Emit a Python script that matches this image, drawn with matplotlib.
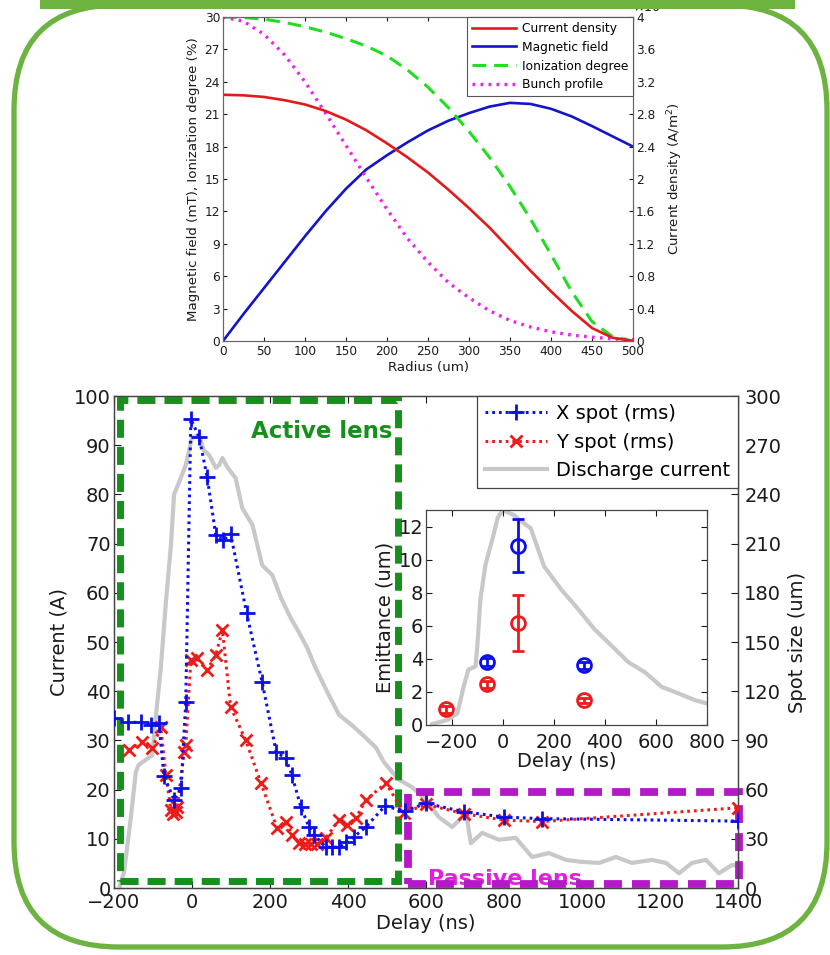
import numpy as np
import matplotlib
matplotlib.use("Agg")
import matplotlib.pyplot as plt
from matplotlib.patches import Rectangle, FancyBboxPatch
from matplotlib.transforms import IdentityTransform
from matplotlib.ticker import FuncFormatter

plt.rcParams['font.family'] = ['DejaVu Sans']

# ---------------- data: top panel ----------------
radius_um = [0, 25, 50, 75, 100, 125, 150, 175, 200, 225, 250, 275, 300, 325, 350, 375, 400, 425, 450, 475, 500]
current_density = [3.04, 3.033, 3.013, 2.973, 2.92, 2.84, 2.733, 2.6, 2.44, 2.267, 2.08, 1.867, 1.64, 1.4, 1.133,
                   0.867, 0.613, 0.373, 0.16, 0.04, 0.0]          # x1e8 A/m^2 (right axis)
magnetic_field = [0, 2.5, 4.9, 7.3, 9.7, 12.0, 14.1, 15.9, 17.2, 18.4, 19.5, 20.4, 21.1, 21.7, 22.05, 21.95,
                  21.5, 20.8, 19.9, 18.95, 18.0]                  # mT
ionization_degree = [30, 29.95, 29.8, 29.5, 29.1, 28.6, 28.0, 27.3, 26.4, 25.1, 23.5, 21.6, 19.4, 17.0, 14.3,
                     11.3, 8.0, 4.6, 1.8, 0.4, 0.0]               # %
bunch_profile = [30, 29.6, 28.4, 26.5, 24.0, 21.1, 18.1, 15.1, 12.2, 9.5, 7.3, 5.4, 4.0, 2.8, 1.9, 1.3, 0.85,
                 0.55, 0.35, 0.2, 0.12]
top_labels = ['Current density', 'Magnetic field', 'Ionization degree', 'Bunch profile']

# ---------------- data: main panel ----------------
x_delay = [-200, -165, -130, -105, -85, -72, -46, -28, -16, -3, 18, 39, 61, 80, 99, 140, 180, 216, 240, 256,
           279, 300, 313, 343, 359, 377, 394, 415, 446, 495, 545, 600, 697, 800, 897, 1400]
x_spot_um = [103.5, 101, 101, 99.6, 100.8, 68.4, 53.7, 60.9, 113.4, 285.9, 275.1, 250.5, 215.1, 212.1, 216,
             167.7, 125.4, 82.8, 79.2, 69, 49.5, 37.2, 32.4, 24.9, 24.9, 24.9, 27.9, 31.2, 37.2, 50.1, 46.8,
             51.6, 46.5, 43.2, 42.3, 40.8]
y_delay = [-162, -128, -102, -80, -67, -54, -48, -42, -38, -20, -16, -3, 13, 39, 61, 78, 99, 138, 177, 218,
           241, 257, 274, 290, 305, 320, 343, 377, 397, 420, 446, 497, 544, 600, 697, 800, 897, 1400]
y_spot_um = [84, 89.1, 85.2, 98.1, 69, 47.7, 45, 46.5, 49.5, 82.8, 87, 138.9, 140.1, 132.9, 142.2, 157.2,
             110.4, 90, 63.9, 36.6, 40.2, 32.4, 27.3, 27, 27, 27, 30.6, 41.4, 38.4, 42.6, 53.7, 63.9, 45.9,
             51, 45.3, 41.4, 40.5, 48.9]
discharge_t = [-185, -174, -157, -144, -137, -102, -93, -80, -67, -54, -46, -33, -16, 0, 18, 30, 44, 61, 70, 78,
               90, 112, 129, 155, 180, 206, 228, 253, 274, 296, 317, 351, 377, 410, 446, 472, 492, 513, 531,
               564, 600, 633, 667, 703, 715, 744, 787, 830, 872, 915, 959, 1000, 1044, 1087, 1128, 1179, 1215,
               1249, 1282, 1318, 1351, 1385, 1400]
discharge_A = [0.5, 3.3, 14.2, 23.6, 25, 27, 34.6, 44.7, 58, 69.7, 80, 82.5, 86, 91.5, 92, 89, 88, 85.4, 86,
               87.4, 85.6, 83.3, 77.2, 73.8, 65.6, 63.6, 59.0, 54.9, 52.0, 48.7, 44.7, 39.2, 35.2, 33.1, 30.5,
               28.5, 25.6, 23.6, 22, 20.5, 17.9, 14.4, 12.4, 15.2, 9.1, 11.2, 9.8, 10.2, 6.3, 7.1, 5.7, 5.3,
               5.1, 6.3, 5.1, 5.7, 5.1, 3.0, 5.1, 5.7, 3.0, 4.7, 4.5]
main_labels = ['X spot (rms)', 'Y spot (rms)', 'Discharge current']
lens_labels = ['Active lens', 'Passive lens']

# ---------------- data: inset ----------------
inset_t = [-276, -217, -177, -153, -134, -106, -99, -87, -67, -39, -20, 0, 43, 83, 110, 162, 229, 296, 359,
           426, 492, 556, 623, 690, 753, 800]
inset_curr = [0.06, 0.3, 0.7, 2.3, 3.35, 3.55, 4.8, 7.6, 9.7, 11.3, 12.5, 13.0, 12.7, 12.2, 11.9, 9.6, 8.2,
              7.0, 5.8, 4.8, 3.8, 3.2, 2.3, 1.9, 1.5, 1.3]
emx_t = [-60, 60, 320]
emx = [3.8, 10.85, 3.6]
emx_err = [0.25, 1.6, 0.2]
emy_t = [-220, -60, 60, 320]
emy = [0.95, 2.45, 6.15, 1.5]
emy_err = [0.2, 0.2, 1.7, 0.15]

# ---------------- styling ----------------
W, H = 830, 955
fig = plt.figure(figsize=(W / 100, H / 100), dpi=100)
fig.patch.set_facecolor('white')

FRAME = '#6db33f'
BLUE = '#0c10e8'
RED = '#ee1b1b'
GRAY = '#c8c8c8'
ACT = '#15901a'
PAS = '#b418c8'
SPINE = '#444444'
TXT = '#1a1a1a'
FS = 14


def ax_px(l, t, r, b, **kw):
    return fig.add_axes([l / W, 1 - b / H, (r - l) / W, (b - t) / H], **kw)


# frame
frame = FancyBboxPatch((14, 8), 813, 942, boxstyle='round,pad=0,rounding_size=105',
                       transform=IdentityTransform(), fill=False, edgecolor=FRAME, lw=3.8, zorder=-5)
fig.add_artist(frame)
bar = Rectangle((40, 946), 755, 12, transform=IdentityTransform(), facecolor=FRAME,
                edgecolor='none', zorder=20)
fig.add_artist(bar)

# ---------------- top panel ----------------
ax1 = ax_px(223, 17, 633, 341)
ax1r = ax1.twinx()
ax1.set_xlim(0, 500)
ax1.set_ylim(0, 30)
ax1r.set_ylim(0, 4)
hb, = ax1.plot(radius_um, magnetic_field, color='#1414c8', lw=1.9)
hg, = ax1.plot(radius_um, ionization_degree, color='#22dd22', lw=2.2, linestyle=(0, (4.5, 2.6)))
hm, = ax1.plot(radius_um, bunch_profile, color='#ee22ee', lw=2.4, linestyle=(0, (0.8, 1.6)))
hr, = ax1r.plot(radius_um, current_density, color='#e41a1a', lw=1.9)
ax1.set_xticks(np.arange(0, 501, 50))
ax1.set_yticks(np.arange(0, 31, 3))
ax1r.set_yticks(np.arange(0, 4.01, 0.4))
ax1r.yaxis.set_major_formatter(FuncFormatter(lambda v, p: '%g' % round(v, 2)))
for a in (ax1, ax1r):
    a.tick_params(direction='in', length=3, labelsize=8.7, colors=TXT, pad=2.2)
    for s in a.spines.values():
        s.set_color('#666666')
        s.set_linewidth(0.8)
ax1.tick_params(axis='x', top=True, pad=3.2)
ax1.set_xlabel('Radius (um)', fontsize=9.6, labelpad=1.5, color=TXT)
ax1.set_ylabel('Magnetic field (mT), Ionization degree (%)', fontsize=9.6, labelpad=3, color=TXT)
ax1r.set_ylabel('Current density (A/m$^2$)', fontsize=9.6, labelpad=7, color=TXT)
ax1r.text(1.0, 1.005, r'$\times10^{8}$', transform=ax1r.transAxes, ha='left', va='bottom',
          fontsize=9, color=TXT)
leg1 = ax1r.legend([hr, hb, hg, hm], top_labels, loc='upper right', bbox_to_anchor=(1, 1),
                   borderaxespad=0, fontsize=8.8, handlelength=3.6, labelspacing=0.48, fancybox=False,
                   edgecolor='#555555', framealpha=1, borderpad=0.4, handletextpad=0.5)
leg1.get_frame().set_linewidth(0.8)

# ---------------- main panel ----------------
ax2 = ax_px(114, 396, 738, 888)
ax2r = ax2.twinx()
ax2.set_xlim(-200, 1400)
ax2.set_ylim(0, 100)
ax2r.set_ylim(0, 300)
hgray, = ax2.plot(discharge_t, discharge_A, color=GRAY, lw=3.0, zorder=1)

# lens regions (axes fraction)
ax2r.add_patch(Rectangle((0.0096, 0.0142), 0.4454, 0.9777, transform=ax2r.transAxes, fill=False,
                         edgecolor=ACT, lw=5.0, linestyle=(0, (2.6, 1.3)), zorder=2, clip_on=False))
ax2r.add_patch(Rectangle((0.471, 0.008), 0.5306, 0.187, transform=ax2r.transAxes, fill=False,
                         edgecolor=PAS, lw=5.6, linestyle=(0, (2.3, 1.3)), zorder=2, clip_on=False))
ax2r.text(0.447, 0.9146, lens_labels[0], transform=ax2r.transAxes, ha='right', va='baseline',
          fontsize=16.5, fontweight='bold', color=ACT, zorder=1.5)
ax2r.text(0.503, 0.006, lens_labels[1], transform=ax2r.transAxes, ha='left', va='baseline',
          fontsize=16, fontweight='bold', color='#e020e0', zorder=1.5)

hx, = ax2r.plot(x_delay, x_spot_um, color=BLUE, lw=2.2, linestyle=(0, (0.9, 1.3)), marker='+',
                markersize=11, markeredgewidth=2.0, zorder=4)
hy, = ax2r.plot(y_delay, y_spot_um, color=RED, lw=2.2, linestyle=(0, (0.9, 1.3)), marker='x',
                markersize=8, markeredgewidth=2.0, zorder=3)

ax2.set_xticks(np.arange(-200, 1401, 200))
ax2.set_yticks(np.arange(0, 101, 10))
ax2r.set_yticks(np.arange(0, 301, 30))
for a in (ax2, ax2r):
    a.tick_params(direction='in', length=5, labelsize=FS, colors=TXT, pad=2.5)
    for s in a.spines.values():
        s.set_color(SPINE)
        s.set_linewidth(0.9)
ax2.tick_params(axis='x', top=True, pad=3.5)
ax2r.tick_params(axis='y', pad=4.5)
ax2.set_xlabel('Delay (ns)', fontsize=FS, labelpad=1.5, color=TXT)
ax2.set_ylabel('Current (A)', fontsize=FS, labelpad=4, color=TXT)
ax2r.set_ylabel('Spot size (um)', fontsize=FS, labelpad=5, color=TXT)
leg2 = ax2r.legend([hx, hy, hgray], main_labels, loc='upper right', bbox_to_anchor=(1, 1),
                   borderaxespad=0, fontsize=FS, handlelength=3.2, labelspacing=0.5, fancybox=False,
                   edgecolor='#444444', framealpha=1, borderpad=0.4, handletextpad=0.45)
leg2.get_frame().set_linewidth(0.9)
leg2.set_zorder(10)

# ---------------- inset ----------------
ax3 = ax_px(426, 510, 707, 725)
ax3.set_zorder(5)
ax3.plot(inset_t, inset_curr, color=GRAY, lw=3.0, zorder=1)
ax3.errorbar(emx_t, emx, yerr=emx_err, fmt='o', color=BLUE, mfc='none', mec=BLUE, ms=10, mew=2.0,
             elinewidth=2.0, capsize=4, capthick=2.0, zorder=3)
ax3.errorbar(emy_t, emy, yerr=emy_err, fmt='o', color=RED, mfc='none', mec=RED, ms=10, mew=2.0,
             elinewidth=2.0, capsize=4, capthick=2.0, zorder=3)
ax3.set_xlim(-300, 800)
ax3.set_ylim(0, 13)
ax3.set_xticks(np.arange(-200, 801, 200))
ax3.set_yticks(np.arange(0, 13, 2))
ax3.tick_params(direction='in', length=4, labelsize=FS, colors=TXT, pad=2, top=True, right=True)
ax3.tick_params(axis='x', pad=6)
for s in ax3.spines.values():
    s.set_color(SPINE)
    s.set_linewidth(0.9)
ax3.set_xlabel('Delay (ns)', fontsize=FS, labelpad=0, color=TXT)
ax3.set_ylabel('Emittance (um)', fontsize=FS, labelpad=3, color=TXT)
ax3.patch.set_facecolor('white')

fig.savefig('out.png', dpi=100)
